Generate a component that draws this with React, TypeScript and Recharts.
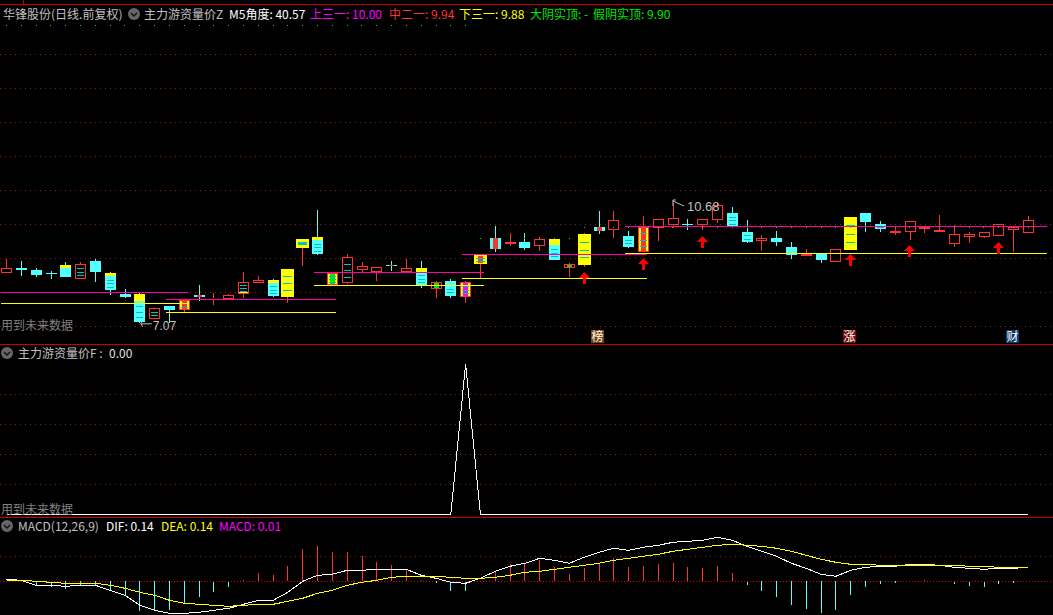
import React from "react";
import { Bar, CartesianGrid, ComposedChart, Line, ReferenceDot, ReferenceLine, XAxis, YAxis } from "recharts";

const opens = [8.58, 8.73, 8.67, 8.58, 8.82, 8.40, 8.94, 8.58, 7.95, 7.95, 7.20, 7.59, 7.47, 7.92, 7.80, 7.80, 7.95, 8.28, 8.37, 7.86, 9.33, 9.66, 8.22, 8.28, 8.67, 8.61, 8.82, 8.61, 8.73, 8.10, 8.34, 7.86, 8.85, 9.63, 9.45, 9.51, 9.39, 9.60, 8.73, 8.82, 9.96, 9.87, 9.69, 9.21, 9.93, 10.02, 10.05, 10.02, 10.17, 10.38, 9.81, 9.54, 9.63, 9.36, 9.09, 9.15, 8.91, 9.27, 10.38, 10.05, 9.78, 9.81, 9.90, 9.81, 9.45, 9.66, 9.66, 9.69, 9.87, 9.78];
const closes = [8.73, 8.67, 8.52, 8.55, 8.46, 8.85, 8.61, 8.07, 7.86, 7.11, 7.53, 7.47, 7.77, 7.86, 7.83, 7.92, 8.31, 8.37, 7.89, 8.70, 9.60, 9.15, 8.58, 9.06, 8.79, 8.76, 8.79, 8.73, 8.22, 8.31, 7.89, 8.31, 9.12, 9.30, 9.51, 9.33, 9.60, 8.97, 8.85, 9.75, 9.84, 10.17, 9.36, 9.96, 10.20, 10.23, 10.02, 10.20, 10.62, 9.96, 9.51, 9.63, 9.51, 9.12, 9.15, 8.97, 9.30, 10.26, 10.11, 9.90, 9.84, 10.14, 9.96, 9.87, 9.75, 9.75, 9.81, 10.05, 9.96, 10.17];
const highs = [9.00, 8.94, 8.73, 8.64, 8.91, 8.91, 9.00, 8.61, 8.10, 7.98, 7.53, 7.59, 7.77, 8.22, 7.98, 7.95, 8.61, 8.49, 8.40, 8.70, 9.60, 10.47, 8.61, 9.15, 8.91, 8.76, 8.94, 9.00, 8.94, 8.34, 8.40, 8.34, 9.12, 9.99, 9.78, 9.78, 9.66, 9.63, 8.88, 9.78, 10.44, 10.44, 9.84, 10.29, 10.20, 10.68, 10.20, 10.20, 10.68, 10.56, 10.17, 9.72, 9.84, 9.51, 9.30, 9.15, 9.30, 10.26, 10.38, 10.14, 9.96, 10.14, 9.96, 10.32, 10.02, 9.81, 9.81, 10.05, 9.96, 10.29];
const lows = [8.58, 8.49, 8.46, 8.40, 8.46, 8.40, 8.31, 7.92, 7.83, 7.07, 7.20, 7.08, 7.41, 7.74, 7.62, 7.80, 7.83, 8.28, 7.86, 7.68, 8.79, 9.12, 8.22, 8.25, 8.61, 8.34, 8.64, 8.61, 8.13, 7.83, 7.83, 7.68, 8.43, 9.21, 9.39, 9.27, 9.24, 8.97, 8.46, 8.76, 9.75, 9.63, 9.33, 9.21, 9.54, 9.93, 9.87, 9.87, 10.08, 9.96, 9.48, 9.24, 9.39, 9.00, 9.09, 8.88, 8.91, 9.27, 9.81, 9.81, 9.72, 9.57, 9.78, 9.81, 9.36, 9.48, 9.63, 9.69, 9.21, 9.78];

// 主力游资量价F
const fValues = [0, 0, 0, 0, 0, 0, 0, 0, 0, 0, 0, 0, 0, 0, 0, 0, 0, 0, 0, 0, 0, 0, 0, 0, 0, 0, 0, 0, 0, 0, 0, 100, 0, 0, 0, 0, 0, 0, 0, 0, 0, 0, 0, 0, 0, 0, 0, 0, 0, 0, 0, 0, 0, 0, 0, 0, 0, 0, 0, 0, 0, 0, 0, 0, 0, 0, 0, 0, 0, 0];

// MACD
const difValues = [0.02, 0.01, -0.04, -0.04, -0.05, -0.04, -0.04, -0.09, -0.14, -0.24, -0.29, -0.32, -0.32, -0.31, -0.29, -0.27, -0.23, -0.19, -0.19, -0.11, 0.0, 0.06, 0.07, 0.11, 0.11, 0.12, 0.12, 0.12, 0.06, 0.03, -0.01, -0.02, 0.03, 0.10, 0.15, 0.18, 0.23, 0.21, 0.18, 0.24, 0.29, 0.33, 0.31, 0.34, 0.36, 0.39, 0.40, 0.41, 0.44, 0.41, 0.35, 0.30, 0.25, 0.18, 0.13, 0.07, 0.05, 0.11, 0.14, 0.15, 0.15, 0.17, 0.17, 0.16, 0.14, 0.13, 0.12, 0.13, 0.13, 0.14];
const deaValues = [0.01, 0.01, 0.0, -0.01, -0.02, -0.02, -0.02, -0.04, -0.07, -0.11, -0.14, -0.19, -0.22, -0.23, -0.24, -0.25, -0.24, -0.23, -0.23, -0.20, -0.17, -0.12, -0.09, -0.04, -0.01, 0.01, 0.04, 0.05, 0.05, 0.05, 0.04, 0.03, 0.03, 0.04, 0.06, 0.09, 0.10, 0.12, 0.14, 0.16, 0.18, 0.21, 0.23, 0.25, 0.27, 0.30, 0.32, 0.34, 0.36, 0.37, 0.36, 0.35, 0.33, 0.30, 0.26, 0.22, 0.19, 0.17, 0.17, 0.16, 0.16, 0.16, 0.16, 0.16, 0.16, 0.15, 0.15, 0.14, 0.14, 0.14];
const macdValues = [0, 0, -0.05, -0.06, -0.08, -0.04, -0.05, -0.10, -0.15, -0.30, -0.30, -0.29, -0.22, -0.16, -0.11, -0.06, 0.01, 0.08, 0.06, 0.15, 0.32, 0.35, 0.29, 0.29, 0.25, 0.19, 0.16, 0.12, 0.01, -0.02, -0.10, -0.10, 0, 0.09, 0.17, 0.18, 0.21, 0.14, 0.07, 0.13, 0.18, 0.23, 0.14, 0.15, 0.17, 0.18, 0.14, 0.13, 0.15, 0.08, -0.04, -0.10, -0.16, -0.24, -0.28, -0.32, -0.29, -0.14, -0.06, -0.03, -0.02, 0, 0.01, 0, -0.03, -0.05, -0.06, -0.03, -0.02, 0];

// candle groups, by candle number
const yellowBodies = [19, 20, 32, 39, 57];
const yellowWithRedEdge = [12, 22, 31, 43];
const stripedCandles = [5, 7, 9, 10, 12, 16, 18, 19, 21, 22, 23, 28, 30, 31, 32, 37, 39, 42, 43, 49, 50, 57, 59];
const redCores = [12, 13, 26, 32, 33, 40, 43];
const greenCores = [22, 29, 38, 54, 60];
const magentaCores = [31];
const cyanCores = [20];
const yellowBases = [16];
const yellowCapCandles = [4, 7, 9, 18, 21, 28, 37];
const yellowCapPrices = [8.72, 8.49, 7.74, 8.28, 9.57, 8.61, 9.42];

// signal rows
const dotRowTop = 16.02;
const dotRowMiddle = 9.63;
const dotRowLow = 9.96;
const arrowCandles = [39, 43, 47, 57, 61, 67];
const arrowPrices = [8.61, 9.03, 9.69, 9.15, 9.42, 9.51];
const tagCandles = [40, 57, 68];
const tagNames = ["榜", "涨", "财"];
const tagPrice = 6.675;

// 上三一 / 下三一 stretches
const bandStarts = [-0.36, 10.78, 20.78, 30.77, 41.77];
const bandEnds = [12.27, 22.26, 32.26, 43.26, 70.25];
const bandUppers = [8.01, 7.80, 8.61, 9.15, 9.99];
const bandLowers = [7.68, 7.41, 8.22, 8.43, 9.18];

const priceGrid = [6.99, 8.01, 9.03, 10.05, 11.07, 12.09, 13.11, 14.13, 15.15];
const fGrid = [20, 40, 60, 80];
const macdGrid = [0.25];

const RED = "#ff3232";
const CYAN = "#54ffff";
const YELLOW = "#ffff00";
const GREEN = "#00e800";
const MAGENTA = "#ff00ff";
const TEAL = "#00c4c4";
const GREY = "#c0c0c0";
const GRID = "#8a1c1c";
const FONT = '"Noto Sans CJK SC", sans-serif';

const X_DOMAIN: [number, number] = [-0.439, 70.66];
const WIDTH = 1053;

const candleRows = opens.map((open, idx) => {
  const capAt = yellowCapCandles.indexOf(idx);
  const arrowAt = arrowCandles.indexOf(idx);
  const tagAt = tagCandles.indexOf(idx);
  return {
    idx,
    open,
    close: closes[idx],
    high: highs[idx],
    low: lows[idx],
    range: [lows[idx], highs[idx]],
    cap: capAt >= 0 ? yellowCapPrices[capAt] : null,
    signal: idx < 32 ? dotRowTop : idx < 39 ? dotRowMiddle : dotRowLow,
    arrow: arrowAt >= 0 ? arrowPrices[arrowAt] : null,
    tag: tagAt >= 0 ? tagPrice : null,
    tagName: tagAt >= 0 ? tagNames[tagAt] : "",
  };
});

const fRows = fValues.map((f, idx) => ({ idx, f }));
const macdRows = macdValues.map((macd, idx) => ({ idx, macd, dif: difValues[idx], dea: deaValues[idx] }));

function Candle(props: any) {
  const { x, y, width, height, payload } = props;
  if (!payload) return null;
  const { idx, open, close, high, low, cap } = payload;
  const cx = Math.floor(x + width / 2);
  const perUnit = Math.abs(height) / (high - low || 1);
  const toY = (v: number) => y + (high - v) * perUnit;
  const up = close >= open;
  const top = Math.round(toY(Math.max(open, close)));
  const bottom = Math.max(Math.round(toY(Math.min(open, close))), top + 1);
  const half = yellowBodies.includes(idx) ? 6 : 5;
  const left = cx - half;
  const boxW = half * 2 + 1;
  const boxH = bottom - top;
  const isYellow = yellowBodies.includes(idx) || yellowWithRedEdge.includes(idx);
  const edge = yellowWithRedEdge.includes(idx) ? RED : isYellow ? YELLOW : up ? RED : CYAN;
  const fill = isYellow ? YELLOW : up ? "#000" : CYAN;
  const wick = up ? RED : CYAN;

  const capY = cap != null ? Math.round(toY(cap)) : top;
  const stripeTop = capY;
  const stripeSpan = bottom - stripeTop;
  const stripeCount = stripeSpan < 6 ? 1 : stripeSpan < 12 ? 2 : 3;
  const stripes = stripedCandles.includes(idx)
    ? Array.from({ length: stripeCount }, (_, k) => Math.round(stripeTop + (stripeSpan * (k + 1)) / (stripeCount + 1)))
    : [];

  let core = "";
  if (redCores.includes(idx)) core = RED;
  if (greenCores.includes(idx)) core = GREEN;
  if (magentaCores.includes(idx)) core = MAGENTA;

  return (
    <g shapeRendering="crispEdges">
      <line x1={cx + 0.5} x2={cx + 0.5} y1={y} y2={y + Math.abs(height)} stroke={wick} />
      <rect x={left} y={top} width={boxW} height={boxH} fill={fill} />
      {cap != null && <rect x={left} y={top} width={boxW} height={capY - top} fill={YELLOW} />}
      {yellowBases.includes(idx) && <rect x={left} y={bottom - 2} width={boxW} height={2} fill={YELLOW} />}
      {core && <rect x={cx - 2} y={top} width={5} height={boxH} fill={core} />}
      {cyanCores.includes(idx) && <rect x={left + 2} y={top + 3} width={boxW - 4} height={boxH - 6} fill={TEAL} />}
      {stripes.map((sy) => (
        <rect key={sy} x={left + 2} y={sy} width={boxW - 4} height={1} fill={TEAL} />
      ))}
      {up || edge !== CYAN ? (
        <rect x={left + 0.5} y={top + 0.5} width={boxW - 1} height={Math.max(boxH - 1, 0)} fill="none" stroke={edge} />
      ) : null}
    </g>
  );
}

function SignalDot(props: any) {
  const { cx, cy, index } = props;
  if (cx == null || cy == null) return <g key={index} />;
  return <rect key={index} x={Math.floor(cx)} y={Math.round(cy)} width={1} height={1} fill={GREEN} shapeRendering="crispEdges" />;
}

function ArrowDot(props: any) {
  const { cx, cy, index } = props;
  if (cx == null || cy == null) return <g key={index} />;
  const c = Math.floor(cx) + 0.5;
  const d = `M${c} ${cy}L${c + 5.5} ${cy + 6}L${c + 1.5} ${cy + 6}L${c + 1.5} ${cy + 12}L${c - 1.5} ${cy + 12}L${c - 1.5} ${cy + 6}L${c - 5.5} ${cy + 6}Z`;
  return <path key={index} d={d} fill="#ff0000" />;
}

function TagDot(props: any) {
  const { cx, cy, index, payload } = props;
  if (cx == null || cy == null || !payload?.tagName) return <g key={index} />;
  const bg = payload.tagName === "榜" ? "#7a4208" : payload.tagName === "涨" ? "#7a0a0a" : "#0a3a70";
  const c = Math.floor(cx);
  return (
    <g key={index}>
      <rect x={c - 7} y={cy - 6.5} width={13} height={13} fill={bg} />
      <text x={c - 0.5} y={cy + 4.5} fill="#fff" fontSize={12} fontFamily={FONT} textAnchor="middle">
        {payload.tagName}
      </text>
    </g>
  );
}

function LowMark(props: any) {
  const { cx, cy } = props;
  return (
    <g>
      <path d={`M${cx + 12} ${cy + 0.5}L${cx + 1} ${cy + 0.5}M${cx + 1} ${cy + 0.5}L${cx + 3} ${cy - 2.5}M${cx + 1} ${cy + 0.5}L${cx + 3} ${cy + 3.5}`} stroke={GREY} fill="none" />
      <text x={cx + 13} y={cy + 7} fill={GREY} fontSize={12} fontFamily='"Liberation Sans"'>
        7.07
      </text>
    </g>
  );
}

function HighMark(props: any) {
  const { cx, cy } = props;
  return (
    <g>
      <path d={`M${cx} ${cy + 3}L${cx} ${cy - 3}L${cx + 3} ${cy - 3}M${cx} ${cy - 2}L${cx + 11} ${cy + 3}`} stroke={GREY} fill="none" />
      <text x={cx + 14} y={cy + 8} fill={GREY} fontSize={13} fontFamily='"Liberation Sans"'>
        10.68
      </text>
    </g>
  );
}

function MacdStick(props: any) {
  const { x, y, width, height, payload } = props;
  if (!payload || payload.macd === 0) return null;
  const cx = Math.floor(x + width / 2);
  const top = Math.min(y, y + height);
  return <rect x={cx} y={top} width={1} height={Math.max(Math.abs(height), 1)} fill={payload.macd > 0 ? RED : CYAN} shapeRendering="crispEdges" />;
}

function Label({ x, y, color, children, size = 12 }: any) {
  return (
    <span style={{ position: "absolute", left: x, top: y - 8, lineHeight: "16px", height: 16, color, fontSize: size, fontFamily: FONT, whiteSpace: "pre" }}>
      {children}
    </span>
  );
}

function FoldIcon({ x, y }: any) {
  return (
    <svg style={{ position: "absolute", left: x - 6, top: y - 6 }} width={12} height={12}>
      <circle cx={6} cy={6} r={6} fill="#666" />
      <path d="M3 5L6 8L9 5" stroke="#111" strokeWidth={1.4} fill="none" />
    </svg>
  );
}

function Rule({ y }: any) {
  return <div style={{ position: "absolute", left: 0, top: y, width: WIDTH, height: 1, background: "#c80000" }} />;
}

export default function App() {
  return (
    <div style={{ position: "absolute", left: 0, top: 0, width: WIDTH, height: 615, background: "#000", overflow: "hidden" }}>
      <div style={{ position: "absolute", left: 0, top: 5 }}>
        <ComposedChart width={WIDTH} height={339} data={candleRows} margin={{ top: 0, right: 0, bottom: 0, left: 0 }}>
          <XAxis type="number" dataKey="idx" domain={X_DOMAIN} hide allowDataOverflow />
          <YAxis type="number" domain={[6.45, 16.62]} hide allowDataOverflow />
          <CartesianGrid vertical={false} horizontalValues={priceGrid} stroke={GRID} strokeDasharray="1 4" shapeRendering="crispEdges" />
          {bandStarts.map((start, i) => (
            <ReferenceLine key={`u${i}`} segment={[{ x: start, y: bandUppers[i] }, { x: bandEnds[i], y: bandUppers[i] }]} stroke="#ff00aa" ifOverflow="visible" shapeRendering="crispEdges" />
          ))}
          {bandStarts.map((start, i) => (
            <ReferenceLine key={`l${i}`} segment={[{ x: start, y: bandLowers[i] }, { x: bandEnds[i], y: bandLowers[i] }]} stroke={YELLOW} ifOverflow="visible" shapeRendering="crispEdges" />
          ))}
          <Bar dataKey="range" barSize={11} shape={Candle} isAnimationActive={false} />
          <Line dataKey="signal" stroke="none" dot={SignalDot} activeDot={false} isAnimationActive={false} />
          <Line dataKey="arrow" stroke="none" dot={ArrowDot} activeDot={false} isAnimationActive={false} />
          <Line dataKey="tag" stroke="none" dot={TagDot} activeDot={false} isAnimationActive={false} />
          <ReferenceDot x={9} y={7.07} shape={LowMark} ifOverflow="visible" />
          <ReferenceDot x={45} y={10.68} shape={HighMark} ifOverflow="visible" />
        </ComposedChart>
      </div>

      <div style={{ position: "absolute", left: 0, top: 345 }}>
        <ComposedChart width={WIDTH} height={172} data={fRows} margin={{ top: 0, right: 0, bottom: 0, left: 0 }}>
          <XAxis type="number" dataKey="idx" domain={X_DOMAIN} hide allowDataOverflow />
          <YAxis type="number" domain={[-1.8, 112.6]} hide allowDataOverflow />
          <CartesianGrid vertical={false} horizontalValues={fGrid} stroke={GRID} strokeDasharray="1 4" shapeRendering="crispEdges" />
          <Line dataKey="f" stroke="#fff" strokeWidth={1} dot={false} activeDot={false} isAnimationActive={false} shapeRendering="crispEdges" />
        </ComposedChart>
      </div>

      <div style={{ position: "absolute", left: 0, top: 518 }}>
        <ComposedChart width={WIDTH} height={97} data={macdRows} margin={{ top: 0, right: 0, bottom: 0, left: 0 }}>
          <XAxis type="number" dataKey="idx" domain={X_DOMAIN} hide allowDataOverflow />
          <YAxis type="number" domain={[-0.337, 0.633]} hide allowDataOverflow />
          <CartesianGrid vertical={false} horizontalValues={macdGrid} stroke={GRID} strokeDasharray="1 4" shapeRendering="crispEdges" />
          <ReferenceLine y={0} stroke="#d80000" strokeDasharray="1 2" shapeRendering="crispEdges" />
          <Bar dataKey="macd" barSize={1} shape={MacdStick} isAnimationActive={false} />
          <Line dataKey="dif" stroke="#fff" strokeWidth={1} dot={false} activeDot={false} isAnimationActive={false} shapeRendering="crispEdges" />
          <Line dataKey="dea" stroke={YELLOW} strokeWidth={1} dot={false} activeDot={false} isAnimationActive={false} shapeRendering="crispEdges" />
        </ComposedChart>
      </div>

      <Rule y={4} />
      <Rule y={344} />
      <Rule y={517} />
      <div style={{ position: "absolute", left: 23, top: 0, width: 1, height: 4, background: "#c80000" }} />

      <Label x={3} y={14} color={GREY}>华锋股份(日线.前复权)</Label>
      <FoldIcon x={134} y={14} />
      <Label x={144} y={14} color={GREY}>主力游资量价Z</Label>
      <Label x={229} y={14} color="#fff">M5角度: 40.57</Label>
      <Label x={310} y={14} color={MAGENTA}>上三一: 10.00</Label>
      <Label x={389} y={14} color={RED}>中二一: 9.94</Label>
      <Label x={459} y={14} color={YELLOW}>下三一: 9.88</Label>
      <Label x={530} y={14} color={GREEN}>大阴实顶: -</Label>
      <Label x={593} y={14} color={GREEN}>假阴实顶: 9.90</Label>
      <Label x={1} y={325} color="#808080">用到未来数据</Label>

      <FoldIcon x={7} y={353} />
      <Label x={18} y={353} color={GREY}>主力游资量价F :</Label>
      <Label x={109} y={353} color="#e0e0e0">0.00</Label>
      <Label x={1} y={509} color="#808080">用到未来数据</Label>

      <FoldIcon x={7} y={526} />
      <Label x={18} y={526} color={GREY}>MACD(12,26,9)</Label>
      <Label x={106} y={526} color="#fff">DIF: 0.14</Label>
      <Label x={161} y={526} color={YELLOW}>DEA: 0.14</Label>
      <Label x={219} y={526} color={MAGENTA}>MACD: 0.01</Label>
    </div>
  );
}
